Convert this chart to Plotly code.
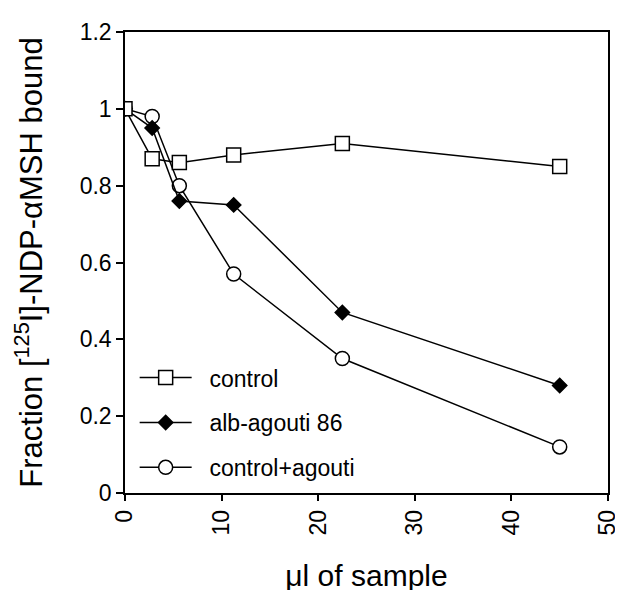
import plotly.graph_objects as go

volumes = [0, 2.8125, 5.625, 11.25, 22.5, 45]
control = [1.0, 0.87, 0.86, 0.88, 0.91, 0.85]
alb_agouti_86 = [1.0, 0.95, 0.76, 0.75, 0.47, 0.28]
control_agouti = [1.0, 0.98, 0.80, 0.57, 0.35, 0.12]

x_ticks = [0, 10, 20, 30, 40, 50]
y_ticks = [0, 0.2, 0.4, 0.6, 0.8, 1.0, 1.2]
y_tick_text = ["0", "0.2", "0.4", "0.6", "0.8", "1", "1.2"]

FONT = "Arial, Liberation Sans, sans-serif"
PAD = "\u00a0\u00a0"

fig = go.Figure()

fig.add_trace(go.Scatter(
    x=volumes, y=control_agouti, name=PAD + "control+agouti", mode="lines+markers",
    line=dict(color="black", width=1.5),
    marker=dict(symbol="circle", size=14, color="white", line=dict(color="black", width=1.5)),
    legendrank=3, legendgroup="c",
))
fig.add_trace(go.Scatter(
    x=volumes, y=alb_agouti_86, name=PAD + "alb-agouti 86", mode="lines+markers",
    line=dict(color="black", width=1.5),
    marker=dict(symbol="diamond", size=11, color="black", line=dict(color="black", width=1.5)),
    legendrank=2, legendgroup="b",
))
fig.add_trace(go.Scatter(
    x=volumes, y=control, name=PAD + "control", mode="lines+markers",
    line=dict(color="black", width=1.5),
    marker=dict(symbol="square", size=14, color="white", line=dict(color="black", width=1.5)),
    legendrank=1, legendgroup="a",
))

fig.update_layout(
    width=623, height=590,
    margin=dict(l=117, r=11, t=23, b=97),
    paper_bgcolor="white", plot_bgcolor="white",
    font=dict(family=FONT, size=23, color="black"),
    showlegend=True,
    legend=dict(
        x=0.02, y=0.297, xanchor="left", yanchor="top",
        bgcolor="rgba(0,0,0,0)", itemwidth=52,
        font=dict(family=FONT, size=23, color="black"),
        tracegroupgap=12, traceorder="grouped",
    ),
    xaxis=dict(
        range=[0, 50], tickvals=x_ticks, ticktext=[str(v) for v in x_ticks],
        tickangle=-90, ticks="outside", ticklen=6, tickwidth=1.5, tickcolor="black",
        showline=True, linecolor="black", linewidth=1.5, mirror=True,
        showgrid=False, zeroline=False,
        title=dict(text="μl of sample", font=dict(family=FONT, size=30), standoff=30),
        tickfont=dict(size=23),
    ),
    yaxis=dict(
        range=[0, 1.2], tickvals=y_ticks, ticktext=y_tick_text,
        ticks="outside", ticklen=7, tickwidth=1.5, tickcolor="black",
        showline=True, linecolor="black", linewidth=1.5, mirror=True,
        showgrid=False, zeroline=False,
        title=dict(text="Fraction [<sup>125</sup>I]-NDP-αMSH bound", font=dict(family=FONT, size=31), standoff=28),
        tickfont=dict(size=23),
    ),
)

fig.write_html("out.html")
